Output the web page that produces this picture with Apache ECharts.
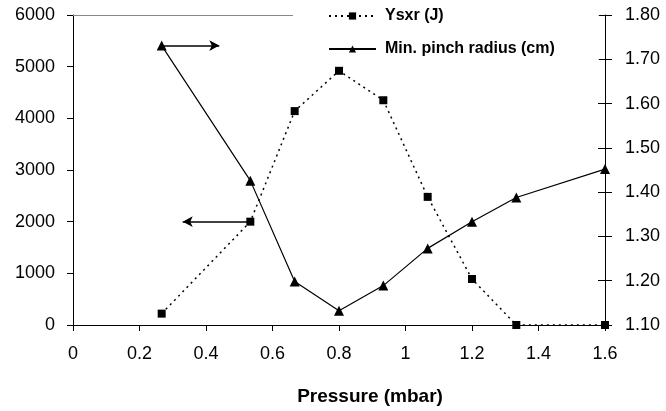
<!DOCTYPE html>
<html>
<head>
<meta charset="utf-8">
<script src="https://cdn.jsdelivr.net/npm/echarts@6/dist/echarts.min.js"></script>
<style>html,body{margin:0;padding:0;background:#fff}#c{width:666px;height:411px}</style>
</head>
<body>
<div id="c"></div>
<script>
// Pressure (mbar)
var pressure = [0.2667, 0.5333, 0.6667, 0.8, 0.9333, 1.0667, 1.2, 1.3333, 1.6];
// Ysxr (J)
var ysxr = [220, 2000, 4140, 4920, 4350, 2480, 890, 0, 0];
// Min. pinch radius (cm)
var pinchRadius = [1.731, 1.426, 1.198, 1.132, 1.189, 1.273, 1.333, 1.388, 1.452];
// Arrow annotations: [x, y] start and end
var arrowRight = [[0.2667, 1.731], [0.44, 1.731]];
var arrowLeft = [[0.5333, 2000], [0.33, 2000]];

var xTicks = {min: 0, max: 1.6, interval: 0.2};
var leftTicks = {min: 0, max: 6000, interval: 1000};
var rightTicks = {min: 1.1, max: 1.8, interval: 0.1};

var font = 'Liberation Sans, Arial, sans-serif';
var chart = echarts.init(document.getElementById('c'), null, {renderer: 'canvas'});
chart.setOption({
  animation: false,
  backgroundColor: '#fff',
  grid: {left: 73, right: 61, top: 15, bottom: 84, containLabel: false},
  legend: {
    orient: 'vertical',
    left: 293, top: 4,
    padding: [4, 44, 4, 35],
    backgroundColor: '#fff',
    itemWidth: 47, itemHeight: 9, itemGap: 17,
    textStyle: {fontFamily: font, fontWeight: 'bold', fontSize: 16, color: '#000', padding: [0, 0, 0, 4]},
    data: ['Ysxr (J)', 'Min. pinch radius (cm)']
  },
  xAxis: [{
    type: 'value', min: xTicks.min, max: xTicks.max, interval: xTicks.interval,
    name: 'Pressure (mbar)', nameLocation: 'middle', nameGap: 62,
    nameTextStyle: {fontFamily: font, fontWeight: 'bold', fontSize: 19, color: '#000', padding: [0, 0, 0, 62]},
    axisLine: {show: true, onZero: false, lineStyle: {color: '#000', width: 1}},
    axisTick: {show: true, inside: false, length: 6, lineStyle: {color: '#000'}},
    axisLabel: {fontFamily: font, fontSize: 18, color: '#000', margin: 20},
    splitLine: {show: false}
  }, {
    type: 'value', position: 'top', min: xTicks.min, max: xTicks.max,
    axisLine: {show: true, onZero: false, lineStyle: {color: '#888', width: 1}},
    axisTick: {show: false}, axisLabel: {show: false}, splitLine: {show: false}
  }],
  yAxis: [{
    type: 'value', position: 'left', min: leftTicks.min, max: leftTicks.max, interval: leftTicks.interval,
    axisLine: {show: true, onZero: false, lineStyle: {color: '#000', width: 1}},
    axisTick: {show: true, length: 6, lineStyle: {color: '#000'}},
    axisLabel: {fontFamily: font, fontSize: 18, color: '#000', margin: 18,
      formatter: function (v) { return String(v); }},
    splitLine: {show: false}
  }, {
    type: 'value', position: 'right', min: rightTicks.min, max: rightTicks.max, interval: rightTicks.interval,
    axisLine: {show: true, onZero: false, lineStyle: {color: '#000', width: 1}},
    axisTick: {show: true, length: 7, lineStyle: {color: '#000'}},
    axisLabel: {fontFamily: font, fontSize: 18, color: '#000', margin: 20,
      formatter: function (v) { return v.toFixed(2); }},
    splitLine: {show: false}
  }, {
    type: 'value', position: 'right', min: rightTicks.min, max: rightTicks.max, interval: rightTicks.interval,
    axisLine: {show: false, onZero: false},
    axisTick: {show: true, inside: true, length: 7, lineStyle: {color: '#000'}},
    axisLabel: {show: false},
    splitLine: {show: false}
  }],
  series: [{
    name: 'Ysxr (J)', type: 'line', xAxisIndex: 0, yAxisIndex: 0,
    data: pressure.map(function (p, i) { return [p, ysxr[i]]; }),
    symbol: 'rect', symbolSize: 8,
    itemStyle: {color: '#000'},
    lineStyle: {color: '#000', width: 1.5, type: [2, 4]},
    markLine: {
      silent: true, symbol: ['none', 'arrow'], symbolSize: [8, 10],
      label: {show: false},
      lineStyle: {color: '#000', width: 1.5, type: 'solid'},
      data: [[{coord: arrowLeft[0]}, {coord: arrowLeft[1]}]]
    }
  }, {
    name: 'Min. pinch radius (cm)', type: 'line', xAxisIndex: 0, yAxisIndex: 1,
    data: pressure.map(function (p, i) { return [p, pinchRadius[i]]; }),
    symbol: 'triangle', symbolSize: 10,
    itemStyle: {color: '#000'},
    lineStyle: {color: '#000', width: 1.2, type: 'solid'},
    markLine: {
      silent: true, symbol: ['none', 'arrow'], symbolSize: [8, 10],
      label: {show: false},
      lineStyle: {color: '#000', width: 1.5, type: 'solid'},
      data: [[{coord: arrowRight[0]}, {coord: arrowRight[1]}]]
    }
  }]
});
</script>
</body>
</html>
